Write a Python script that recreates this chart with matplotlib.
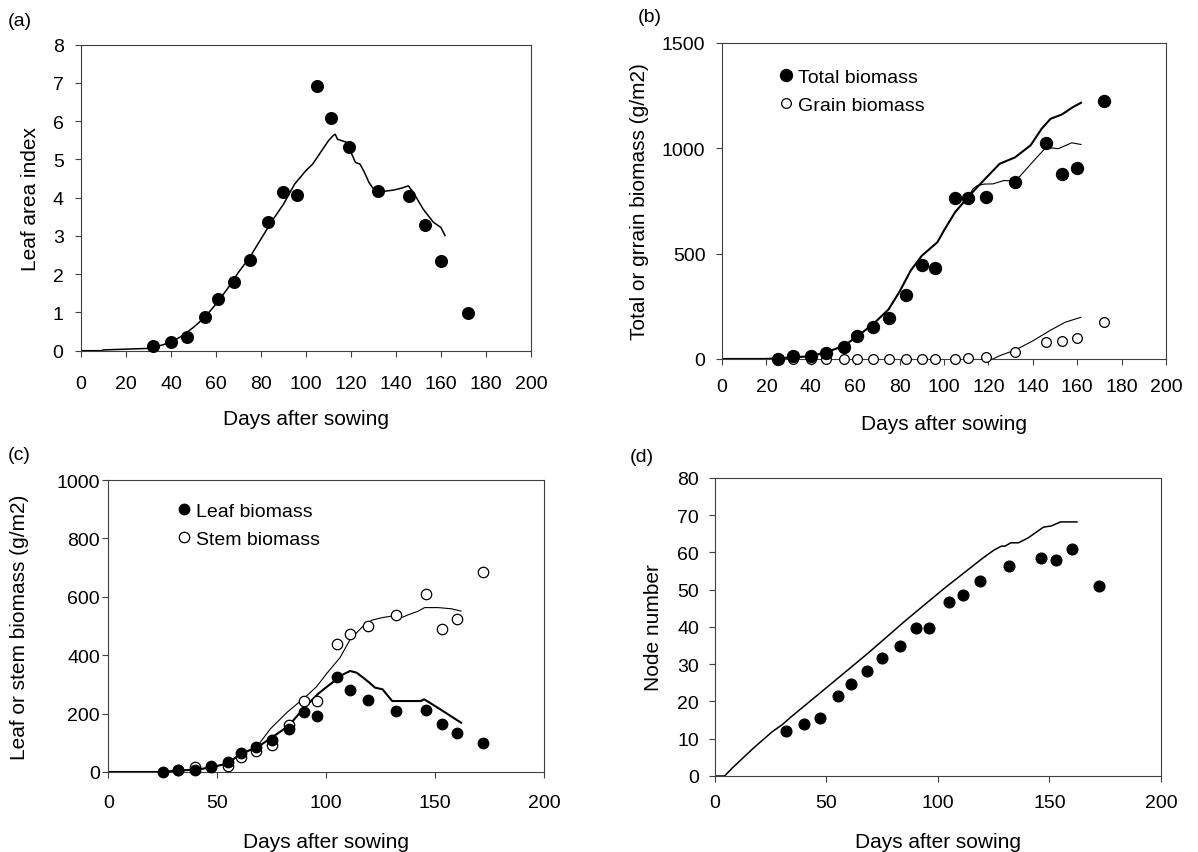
import matplotlib
matplotlib.use("Agg")
import matplotlib.pyplot as plt

plt.rcParams["font.family"] = ["Liberation Sans", "DejaVu Sans"]

# observation days (shared by most series)
obs_days = [32, 40, 47, 55, 61, 68, 75, 83, 90, 96, 105, 111, 119, 132, 146, 153, 160, 172]
obs_days_25 = [25] + obs_days

# (a) leaf area index
lai_obs = [0.13, 0.24, 0.37, 0.89, 1.34, 1.80, 2.36, 3.36, 4.15, 4.08, 6.91, 6.08, 5.33,
           4.18, 4.05, 3.29, 2.34, 0.99]
lai_sim_days = [0, 9, 10, 20, 30, 32, 35, 40, 45, 50, 55, 60, 65, 70, 75, 80, 85, 90, 95, 100,
                103, 107, 110, 112, 113, 114, 116, 118, 120, 122, 124, 126, 128, 130, 132, 135,
                139, 142.5, 145.5, 147.7, 152.1, 156.6, 160, 161.8]
lai_sim = [0, 0, 0.02, 0.04, 0.06, 0.09, 0.13, 0.22, 0.39, 0.61, 0.87, 1.22, 1.61, 2.05, 2.44,
           2.92, 3.40, 3.83, 4.36, 4.71, 4.88, 5.23, 5.49, 5.62, 5.66, 5.53, 5.49, 5.45, 5.19,
           4.92, 4.88, 4.66, 4.40, 4.23, 4.17, 4.17, 4.20, 4.25, 4.31, 4.14, 3.70, 3.36, 3.22, 3.01]

# (b) total and grain biomass
total_obs = [0, 13, 16, 28, 58, 108, 150, 195, 302, 447, 434, 763, 765, 767, 840, 1026, 876, 906, 1224]
grain_obs = [0, 0, 0, 0, 0, 0, 0, 0, 0, 0, 0, 3, 10, 33, 81, 86, 100, 177]
total_sim_days = [0, 19, 25, 40, 47, 55, 61, 68, 75, 80, 85, 90, 97, 100, 105, 111, 115, 120,
                  125, 132, 139, 144, 148, 153, 158, 161.7]
total_sim = [0, 0, 3, 13, 32, 63, 108, 165, 235, 320, 420, 490, 554, 610, 697, 770, 816, 871,
             926, 957, 1014, 1093, 1140, 1160, 1195, 1216]
total_sim2_days = [105, 111, 113, 115, 118, 122, 127, 132, 134, 140, 146, 151.5, 157.5, 161.7]
total_sim2 = [697, 770, 807, 823, 830, 831, 847, 845, 865, 936, 1005, 998, 1026, 1018]
grain_sim_days = [120, 122, 125.2, 132.4, 140.2, 147.7, 154.5, 161.7]
grain_sim = [0, 0, 16, 44, 87, 135, 174, 198]

# (c) leaf and stem biomass
leaf_obs = [0, 8, 8, 16, 33, 65, 84, 110, 147, 206, 193, 327, 280, 245, 210, 213, 164, 133, 99]
stem_obs = [6, 16, 19, 22, 52, 71, 91, 160, 244, 244, 440, 474, 500, 538, 609, 491, 525, 685]
leaf_sim_days = [0, 25, 32, 40, 47, 55, 60.6, 68.2, 75.1, 82.7, 90.1, 96.2, 100, 104.8, 108,
                 111, 114, 117, 120, 122.4, 125.9, 130.3, 135, 143.5, 145, 152.3, 161.9]
leaf_sim = [0, 0, 5, 8, 15, 30, 62, 84, 118, 158, 221, 267, 290, 317, 335, 346, 340, 323, 305,
            289, 283, 243, 243, 243, 249, 215, 169]
stem_sim_days = [0, 25, 32, 40, 47, 55, 61, 68, 69.7, 74.3, 82, 91.1, 95.7, 100, 106.4, 111,
                 117, 121, 125.9, 130.3, 134.7, 138.2, 142, 145.2, 151.4, 157.5, 161.9]
stem_sim = [0, 0, 5, 8, 15, 30, 62, 86, 101, 147, 204, 261, 293, 335, 392, 454, 500, 520, 529,
            534, 529, 540, 550, 563, 563, 559, 551]

# (d) node number
node_obs = [12.1, 13.9, 15.5, 21.4, 24.8, 28.2, 31.6, 34.9, 39.8, 39.8, 46.6, 48.5, 52.3,
            56.3, 58.5, 58.0, 61.0, 50.9]
node_sim_days = [0, 4.3, 7.7, 17.1, 25.7, 30, 34.2, 51.4, 68.5, 85.6, 102.7, 119.9, 125, 128.4,
                 130.1, 132.7, 136.1, 140.4, 147.3, 150.7, 155, 162.3]
node_sim = [0, 0, 2.1, 7.4, 11.9, 13.7, 15.9, 24.4, 32.9, 41.8, 50.3, 58.4, 60.6, 61.7, 61.7,
            62.6, 62.6, 63.9, 66.8, 67.1, 68.2, 68.2]

SPINE = "#404040"
TICK_FS = 14
LABEL_FS = 15


def style_axes(ax, xpad, ypad):
    for sp in ax.spines.values():
        sp.set_color(SPINE)
        sp.set_linewidth(0.8)
    ax.tick_params(direction="out", length=4.5, width=0.8, color=SPINE, labelsize=TICK_FS)
    ax.tick_params(axis="x", pad=xpad)
    ax.tick_params(axis="y", pad=ypad)


def filled(ax, x, y, ms, label=None):
    return ax.plot(x, y, "o", color="black", ms=ms, clip_on=False, zorder=4, label=label)[0]


def hollow(ax, x, y, ms, label=None):
    return ax.plot(x, y, "o", mfc="white", mec="black", mew=0.9, ms=ms, clip_on=False,
                   zorder=3, label=label)[0]


fig = plt.figure(figsize=(11.98, 8.53), dpi=100)

# (a)
ax = fig.add_axes([0.0676, 0.5877, 0.3756, 0.3587])
ax.plot(lai_sim_days, lai_sim, color="black", lw=1.1)
filled(ax, obs_days, lai_obs, 8.4)
ax.set_xlim(0, 200)
ax.set_ylim(0, 8)
ax.set_xticks(range(0, 201, 20))
ax.set_yticks(range(0, 9))
style_axes(ax, 13, 8)
ax.set_xlabel("Days after sowing", fontsize=LABEL_FS)
ax.set_ylabel("Leaf area index", fontsize=LABEL_FS)
ax.xaxis.set_label_coords(0.5, -0.19)
ax.yaxis.set_label_coords(-0.092, 0.5)

# (b)
ax = fig.add_axes([0.6027, 0.578, 0.3706, 0.3705])
ax.plot(total_sim_days, total_sim, color="black", lw=1.5)
ax.plot(total_sim2_days, total_sim2, color="black", lw=0.8)
ax.plot(grain_sim_days, grain_sim, color="black", lw=0.8)
h1 = filled(ax, obs_days_25, total_obs, 8.6, "Total biomass")
h2 = hollow(ax, obs_days, grain_obs, 7, "Grain biomass")
ax.set_xlim(0, 200)
ax.set_ylim(0, 1500)
ax.set_xticks(range(0, 201, 20))
ax.set_yticks([0, 500, 1000, 1500])
style_axes(ax, 9.5, 7.5)
ax.set_xlabel("Days after sowing", fontsize=LABEL_FS)
ax.set_ylabel("Total or grrain biomass (g/m2)", fontsize=LABEL_FS)
ax.xaxis.set_label_coords(0.5, -0.174)
ax.yaxis.set_label_coords(-0.164, 0.5)
ax.legend(handles=[h1, h2], loc="upper left", bbox_to_anchor=(0.132, 0.921), frameon=False,
          fontsize=14, handlelength=0.6, handletextpad=0.3, labelspacing=0.55, borderpad=0,
          borderaxespad=0)

# (c)
ax = fig.add_axes([0.0904, 0.0938, 0.3637, 0.3423])
ax.plot(leaf_sim_days, leaf_sim, color="black", lw=1.5)
ax.plot(stem_sim_days, stem_sim, color="black", lw=0.8)
h2 = hollow(ax, obs_days, stem_obs, 7.5, "Stem biomass")
h1 = filled(ax, obs_days_25, leaf_obs, 7.5, "Leaf biomass")
ax.set_xlim(0, 200)
ax.set_ylim(0, 1000)
ax.set_xticks(range(0, 201, 50))
ax.set_yticks(range(0, 1001, 200))
style_axes(ax, 11, 1.5)
ax.set_xlabel("Days after sowing", fontsize=LABEL_FS)
ax.set_ylabel("Leaf or stem biomass (g/m2)", fontsize=LABEL_FS)
ax.xaxis.set_label_coords(0.5, -0.2045)
ax.yaxis.set_label_coords(-0.183, 0.5)
ax.legend(handles=[h1, h2], loc="upper left", bbox_to_anchor=(0.16, 0.925), frameon=False,
          fontsize=14, handlelength=0.6, handletextpad=0.3, labelspacing=0.55, borderpad=0,
          borderaxespad=0)

# (d)
ax = fig.add_axes([0.5968, 0.0891, 0.3723, 0.3494])
ax.plot(node_sim_days, node_sim, color="black", lw=1.1)
filled(ax, obs_days, node_obs, 7.7)
ax.set_xlim(0, 200)
ax.set_ylim(0, 80)
ax.set_xticks(range(0, 201, 50))
ax.set_yticks(range(0, 81, 10))
style_axes(ax, 8.6, 7)
ax.set_xlabel("Days after sowing", fontsize=LABEL_FS)
ax.set_ylabel("Node number", fontsize=LABEL_FS)
ax.xaxis.set_label_coords(0.5, -0.187)
ax.yaxis.set_label_coords(-0.116, 0.5)

for label, x, y in [("(a)", 8, 21), ("(b)", 638, 17), ("(c)", 8, 456), ("(d)", 630, 457)]:
    fig.text(x / 1198, 1 - y / 853, label, ha="left", va="center", fontsize=14)

fig.savefig("out.png", dpi=100)
